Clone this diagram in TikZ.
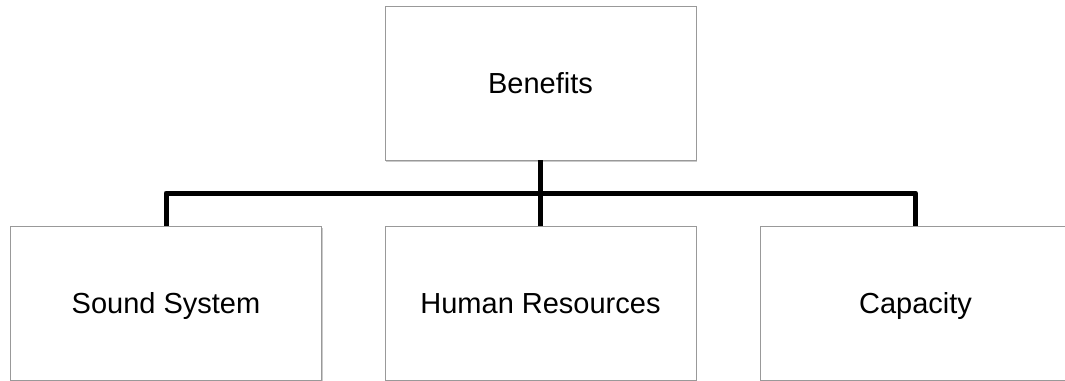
\documentclass[tikz,border=0pt]{standalone}
\usepackage{fontspec}
\setmainfont{Liberation Sans}
\usetikzlibrary{shadows,calc}
\begin{document}
\begin{tikzpicture}[x=1pt, y=-1pt,
  box/.style={draw=black!40, fill=white, minimum width=311pt, minimum height=154pt,
    inner sep=0pt, text height=21pt, text depth=0pt, font=\fontsize{29}{34}\selectfont,
    drop shadow={shadow xshift=1pt, shadow yshift=-1.5pt, fill=black!35, opacity=0.6}},
  link/.style={line width=5pt, line join=round}]
\useasboundingbox (0,0) rectangle (1065,380);
% top level
\node[box] (benefits) at (540.5,83) {Benefits};
% second level
\node[box] (sound) at (166,303) {Sound System};
\node[box] (human) at (540.5,303) {Human Resources};
\node[box] (capacity) at (915.5,303) {Capacity};
% tree lines
\coordinate (bus) at ($(benefits.south)!0.5!(human.north)$);
\draw[link] (sound.north) |- (bus) -| (capacity.north);
\draw[link] (benefits.south) -- (human.north);
\end{tikzpicture}
\end{document}
